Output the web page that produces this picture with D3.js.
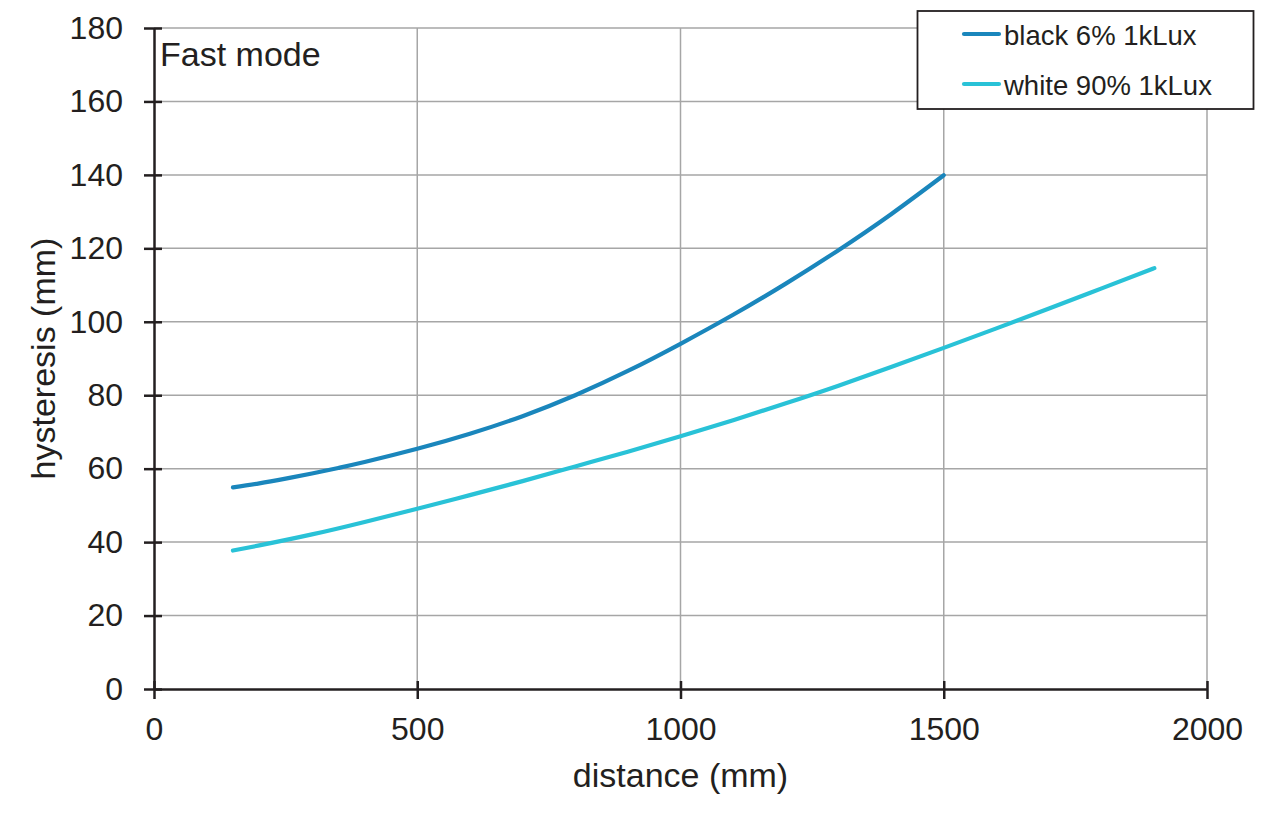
<!DOCTYPE html>
<html>
<head>
<meta charset="utf-8">
<script src="https://cdn.jsdelivr.net/npm/d3@7"></script>
<style>
  body { margin: 0; background: #fff; }
  text { font-family: "Liberation Sans", Arial, sans-serif; fill: #231f20; }
</style>
</head>
<body>
<div id="chart"></div>
<script>
// distance (mm) vs hysteresis (mm)
const blackDist = [150, 200, 250, 300, 350, 400, 500, 600, 700, 800, 900, 1000, 1100, 1200, 1300, 1400, 1500];
const blackHyst = [54.9, 56, 57.3, 58.7, 60.2, 61.8, 65.4, 69.5, 74.3, 80, 86.6, 94, 101.9, 110.4, 119.5, 129.3, 139.9];

const whiteDist = [150, 200, 300, 400, 500, 600, 700, 800, 900, 1000, 1100, 1200, 1300, 1400, 1500, 1600, 1700, 1800, 1900];
const whiteHyst = [37.7, 39.1, 42.1, 45.5, 49.1, 52.8, 56.6, 60.6, 64.6, 68.8, 73.2, 77.8, 82.6, 87.7, 92.9, 98.2, 103.6, 109.1, 114.6];

const seriesNames = ["black 6% 1kLux", "white 90% 1kLux"];
const seriesColors = ["#1a86bc", "#29c2d7"];

const xTicks = [0, 500, 1000, 1500, 2000];
const yTicks = [0, 20, 40, 60, 80, 100, 120, 140, 160, 180];

const width = 1280, height = 832;
const margin = { top: 28, right: 73, bottom: 143, left: 154 };

const svg = d3.select("#chart")
  .append("svg")
  .attr("width", width)
  .attr("height", height);

const x = d3.scaleLinear()
  .domain([0, 2000])
  .range([margin.left, width - margin.right]);

const y = d3.scaleLinear()
  .domain([0, 180])
  .range([height - margin.bottom, margin.top]);

// grid
svg.append("g")
  .selectAll("line")
  .data(yTicks.slice(1))
  .enter()
  .append("line")
  .attr("x1", x(0))
  .attr("x2", x(2000))
  .attr("y1", d => y(d))
  .attr("y2", d => y(d))
  .attr("stroke", "#a6a6a6")
  .attr("stroke-width", 1.5);

svg.append("g")
  .selectAll("line")
  .data(xTicks.slice(1))
  .enter()
  .append("line")
  .attr("x1", d => x(d))
  .attr("x2", d => x(d))
  .attr("y1", y(0))
  .attr("y2", y(180))
  .attr("stroke", "#a6a6a6")
  .attr("stroke-width", 1.5);

// axes
const xAxis = svg.append("g")
  .attr("transform", `translate(0, ${y(0)})`)
  .call(d3.axisBottom(x).tickValues(xTicks).tickFormat(d3.format("d"))
    .tickSize(10).tickPadding(18).tickSizeOuter(0));

const yAxis = svg.append("g")
  .attr("transform", `translate(${x(0)}, 0)`)
  .call(d3.axisLeft(y).tickValues(yTicks).tickFormat(d3.format("d"))
    .tickSize(10).tickPadding(21).tickSizeOuter(0));

[xAxis, yAxis].forEach(g => {
  g.select(".domain").attr("stroke", "#231f20").attr("stroke-width", 2.5);
  g.selectAll(".tick line").attr("stroke", "#231f20").attr("stroke-width", 2.5);
  g.selectAll(".tick text")
    .attr("fill", "#231f20")
    .style("font-family", "'Liberation Sans', Arial, sans-serif")
    .style("font-size", "32px");
});

// ticks poke a little through the axis line
xAxis.selectAll(".tick line").attr("y1", -8);
yAxis.selectAll(".tick line").attr("x1", 8);

// titles
svg.append("text")
  .attr("x", x(1000))
  .attr("y", 787)
  .attr("text-anchor", "middle")
  .style("font-size", "34px")
  .text("distance (mm)");

svg.append("text")
  .attr("transform", `translate(55, ${y(90)}) rotate(-90)`)
  .attr("text-anchor", "middle")
  .style("font-size", "34px")
  .text("hysteresis (mm)");

svg.append("text")
  .attr("x", 160)
  .attr("y", 66)
  .style("font-size", "34px")
  .text("Fast mode");

// lines
const series = [
  blackDist.map((d, i) => ({ dist: d, hyst: blackHyst[i] })),
  whiteDist.map((d, i) => ({ dist: d, hyst: whiteHyst[i] }))
];

const line = d3.line()
  .x(d => x(d.dist))
  .y(d => y(d.hyst))
  .curve(d3.curveNatural);

svg.selectAll("path.series")
  .data(series)
  .enter()
  .append("path")
  .attr("class", "series")
  .attr("d", line)
  .attr("fill", "none")
  .attr("stroke", (d, i) => seriesColors[i])
  .attr("stroke-width", 4.2)
  .attr("stroke-linecap", "round");

// legend
const legend = svg.append("g");
legend.append("rect")
  .attr("x", 917.5)
  .attr("y", 11)
  .attr("width", 336)
  .attr("height", 98)
  .attr("fill", "#fff")
  .attr("stroke", "#231f20")
  .attr("stroke-width", 1.8);

seriesNames.forEach((name, i) => {
  const ly = 34 + i * 50;
  legend.append("line")
    .attr("x1", 964)
    .attr("x2", 999)
    .attr("y1", ly)
    .attr("y2", ly)
    .attr("stroke", seriesColors[i])
    .attr("stroke-width", 4.2)
    .attr("stroke-linecap", "round");
  legend.append("text")
    .attr("x", 1004)
    .attr("y", ly + 11)
    .style("font-size", "27.5px")
    .text(name);
});
</script>
</body>
</html>
